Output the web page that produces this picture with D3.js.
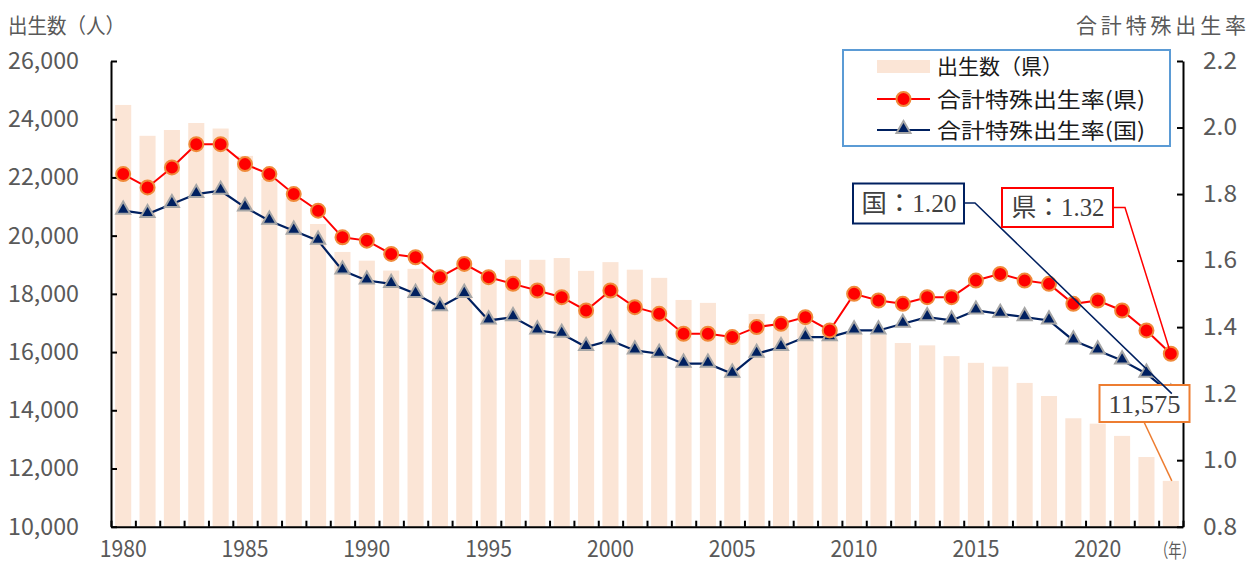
<!DOCTYPE html>
<html>
<head>
<meta charset="utf-8">
<script src="https://cdn.jsdelivr.net/npm/d3@7"></script>
<style>
  html, body { margin: 0; padding: 0; background: #fff; }
  svg { display: block; font-family: 'Noto Sans CJK JP', 'Noto Sans', sans-serif; }
</style>
</head>
<body>
<svg id="chart" width="1254" height="563"></svg>
<script>
const years = d3.range(1980, 2024);
const births = [24490, 23430, 23630, 23870, 23680, 22740, 21940, 21290, 20400, 19440,
  19140, 18800, 18860, 18550, 19000, 18550, 19170, 19170, 19230, 18790,
  19090, 18830, 18550, 17790, 17690, 16450, 17310, 16950, 17000, 16850,
  16700, 16600, 16310, 16230, 15860, 15630, 15500, 14940, 14490, 13725,
  13540, 13120, 12395, 11575];
const tfrPref = [1.86, 1.82, 1.88, 1.95, 1.95, 1.89, 1.86, 1.80, 1.75, 1.67,
  1.66, 1.62, 1.61, 1.55, 1.59, 1.55, 1.53, 1.51, 1.49, 1.45,
  1.51, 1.46, 1.44, 1.38, 1.38, 1.37, 1.40, 1.41, 1.43, 1.39,
  1.50, 1.48, 1.47, 1.49, 1.49, 1.54, 1.56, 1.54, 1.53, 1.47,
  1.48, 1.45, 1.39, 1.32];
const tfrNation = [1.75, 1.74, 1.77, 1.80, 1.81, 1.76, 1.72, 1.69, 1.66, 1.57,
  1.54, 1.53, 1.50, 1.46, 1.50, 1.42, 1.43, 1.39, 1.38, 1.34,
  1.36, 1.33, 1.32, 1.29, 1.29, 1.26, 1.32, 1.34, 1.37, 1.37,
  1.39, 1.39, 1.41, 1.43, 1.42, 1.45, 1.44, 1.43, 1.42, 1.36,
  1.33, 1.30, 1.26, 1.20];
const leftTicks = [10000, 12000, 14000, 16000, 18000, 20000, 22000, 24000, 26000];
const rightTicks = [0.8, 1.0, 1.2, 1.4, 1.6, 1.8, 2.0, 2.2];
const xLabelYears = [1980, 1985, 1990, 1995, 2000, 2005, 2010, 2015, 2020];
const legendLabels = ["出生数（県）", "合計特殊出生率(県)", "合計特殊出生率(国)"];
const titleLeft = "出生数（人）";
const titleRight = "合計特殊出生率";
const yearUnit = "（年）";
const calloutNation = "国：1.20";
const calloutPref = "県：1.32";
const calloutBirths = "11,575";

const C = { bar: "#FBE5D6", red: "#FF0000", redStroke: "#F08A3A", navy: "#002060",
  triStroke: "#A6A6A6", text: "#595959", orange: "#ED7D31", legendBorder: "#5B9BD5" };

const svg = d3.select("#chart");
const L = 111, R = 1183, T = 61, B = 526.7;

const x = d3.scaleBand().domain(years).range([L, R]).paddingInner(0.34).paddingOuter(0.17);
const xc = d => x(d) + x.bandwidth() / 2;
const yL = d3.scaleLinear().domain([10000, 26000]).range([B, T]);
const yR = d3.scaleLinear().domain([0.8, 2.2]).range([B, T]);

// bars
svg.append("g").selectAll("rect").data(years).join("rect")
  .attr("x", d => x(d)).attr("width", x.bandwidth())
  .attr("y", (d, i) => yL(births[i])).attr("height", (d, i) => B - yL(births[i]))
  .attr("fill", C.bar);

// axes
const fmt = d3.format(",");
const gl = svg.append("g").attr("transform", `translate(${L},0)`)
  .call(d3.axisLeft(yL).tickValues(leftTicks).tickSizeInner(-6).tickSizeOuter(0).tickPadding(32).tickFormat(fmt));
const gr = svg.append("g").attr("transform", `translate(${R},0)`)
  .call(d3.axisRight(yR).tickValues(rightTicks).tickSizeInner(-6).tickSizeOuter(0).tickPadding(20).tickFormat(d3.format(".1f")));
const xIdx = d3.scaleLinear().domain([0, years.length]).range([L, R]);
const gb = svg.append("g").attr("transform", `translate(0,${B})`)
  .call(d3.axisBottom(xIdx).tickValues(d3.range(0, years.length + 1)).tickSizeInner(-6).tickSizeOuter(0).tickFormat(""));
[gl, gr, gb].forEach(g => {
  g.selectAll("path.domain").attr("stroke", "#000").attr("stroke-width", 2);
  g.selectAll(".tick line").attr("stroke", "#000").attr("stroke-width", 2);
  g.selectAll("text").attr("fill", C.text).attr("font-size", 23)
    .attr("font-family", "'Noto Sans CJK JP', sans-serif");
});
gl.selectAll(".tick text").attr("textLength", 71).attr("lengthAdjust", "spacingAndGlyphs");
gr.selectAll(".tick text").attr("textLength", 34).attr("lengthAdjust", "spacingAndGlyphs");

// x labels
svg.append("g").selectAll("text").data(xLabelYears).join("text")
  .attr("x", d => xc(d)).attr("y", 557).attr("text-anchor", "middle")
  .attr("font-size", 23).attr("fill", C.text)
  .attr("textLength", 47).attr("lengthAdjust", "spacingAndGlyphs")
  .text(d => d);
svg.append("text").attr("x", 1175).attr("y", 558).attr("text-anchor", "middle")
  .attr("font-size", 19).attr("fill", C.text)
  .attr("textLength", 40).attr("lengthAdjust", "spacingAndGlyphs").text(yearUnit);

// titles
svg.append("text").attr("x", 8).attr("y", 33).attr("font-size", 21).attr("fill", C.text)
  .attr("textLength", 117).attr("lengthAdjust", "spacingAndGlyphs").text(titleLeft);
svg.append("text").attr("x", 1076).attr("y", 33).attr("font-size", 21).attr("fill", C.text)
  .attr("textLength", 170).attr("lengthAdjust", "spacing").text(titleRight);

// lines
const lineGen = (vals) => d3.line().x((d, i) => xc(years[i])).y((d, i) => yR(vals[i]))(vals);
svg.append("path").attr("d", lineGen(tfrPref)).attr("fill", "none").attr("stroke", C.red).attr("stroke-width", 2);
svg.append("path").attr("d", lineGen(tfrNation)).attr("fill", "none").attr("stroke", C.navy).attr("stroke-width", 2.2);

const tri = d3.symbol().type(d3.symbolTriangle).size(85);
svg.append("g").selectAll("path").data(years).join("path")
  .attr("d", tri)
  .attr("transform", (d, i) => `translate(${xc(d)},${yR(tfrNation[i]) - 1})`)
  .attr("fill", C.navy).attr("stroke", C.triStroke).attr("stroke-width", 2);
svg.append("g").selectAll("circle").data(years).join("circle")
  .attr("cx", d => xc(d)).attr("cy", (d, i) => yR(tfrPref[i])).attr("r", 7)
  .attr("fill", C.red).attr("stroke", C.redStroke).attr("stroke-width", 2);

// callouts
const last = years.length - 1;
const lastYear = years[last];
const serif = "'Liberation Serif', 'Noto Sans CJK JP', serif";

// births callout
svg.append("path")
  .attr("d", `M1144,422 L${xc(lastYear) + 1},${yL(births[last])}`)
  .attr("stroke", C.orange).attr("stroke-width", 1.5).attr("fill", "none");
svg.append("rect").attr("x", 1099.5).attr("y", 385).attr("width", 90).attr("height", 37)
  .attr("fill", "#fff").attr("stroke", C.orange).attr("stroke-width", 2);
svg.append("text").attr("x", 1144.5).attr("y", 413).attr("text-anchor", "middle")
  .attr("font-family", serif).attr("font-size", 25).attr("fill", "#404040")
  .attr("textLength", 72).attr("lengthAdjust", "spacingAndGlyphs").text(calloutBirths);

// nation callout
svg.append("path")
  .attr("d", `M964,203 L975,203 L${xc(lastYear) + 1},${yR(tfrNation[last])}`)
  .attr("stroke", C.navy).attr("stroke-width", 1.5).attr("fill", "none");
svg.append("rect").attr("x", 853).attr("y", 183.5).attr("width", 111).attr("height", 40)
  .attr("fill", "#fff").attr("stroke", C.navy).attr("stroke-width", 2);
svg.append("text").attr("x", 909).attr("y", 212).attr("text-anchor", "middle")
  .attr("font-family", serif).attr("font-size", 25).attr("fill", "#404040")
  .attr("textLength", 95).attr("lengthAdjust", "spacingAndGlyphs").text(calloutNation);

// prefecture callout
svg.append("path")
  .attr("d", `M1113,207.5 L1125,207.5 L${xc(lastYear)},${yR(tfrPref[last])}`)
  .attr("stroke", C.red).attr("stroke-width", 1.5).attr("fill", "none");
svg.append("rect").attr("x", 1002).attr("y", 188).attr("width", 111).attr("height", 39)
  .attr("fill", "#fff").attr("stroke", C.red).attr("stroke-width", 2);
svg.append("text").attr("x", 1058).attr("y", 216).attr("text-anchor", "middle")
  .attr("font-family", serif).attr("font-size", 25).attr("fill", "#404040")
  .attr("textLength", 93).attr("lengthAdjust", "spacingAndGlyphs").text(calloutPref);

// legend
const lg = svg.append("g");
lg.append("rect").attr("x", 843).attr("y", 50).attr("width", 327).attr("height", 96)
  .attr("fill", "#fff").attr("stroke", C.legendBorder).attr("stroke-width", 2);
lg.append("rect").attr("x", 877).attr("y", 60).attr("width", 53).attr("height", 13).attr("fill", C.bar);
lg.append("line").attr("x1", 877).attr("x2", 930).attr("y1", 99).attr("y2", 99).attr("stroke", C.red).attr("stroke-width", 2);
lg.append("circle").attr("cx", 903.5).attr("cy", 99).attr("r", 7).attr("fill", C.red).attr("stroke", C.redStroke).attr("stroke-width", 2);
lg.append("line").attr("x1", 877).attr("x2", 930).attr("y1", 130).attr("y2", 130).attr("stroke", C.navy).attr("stroke-width", 2);
lg.append("path").attr("d", tri).attr("transform", "translate(903.5,129)").attr("fill", C.navy).attr("stroke", C.triStroke).attr("stroke-width", 2);
const legendY = [74, 106.5, 138];
const legendW = [126, 208, 208];
lg.selectAll("text.lt").data(legendLabels).join("text").attr("class", "lt")
  .attr("x", 937).attr("y", (d, i) => legendY[i]).attr("font-size", 21).attr("fill", "#1a1a1a")
  .attr("textLength", (d, i) => legendW[i]).attr("lengthAdjust", "spacingAndGlyphs")
  .text(d => d);
</script>
</body>
</html>
